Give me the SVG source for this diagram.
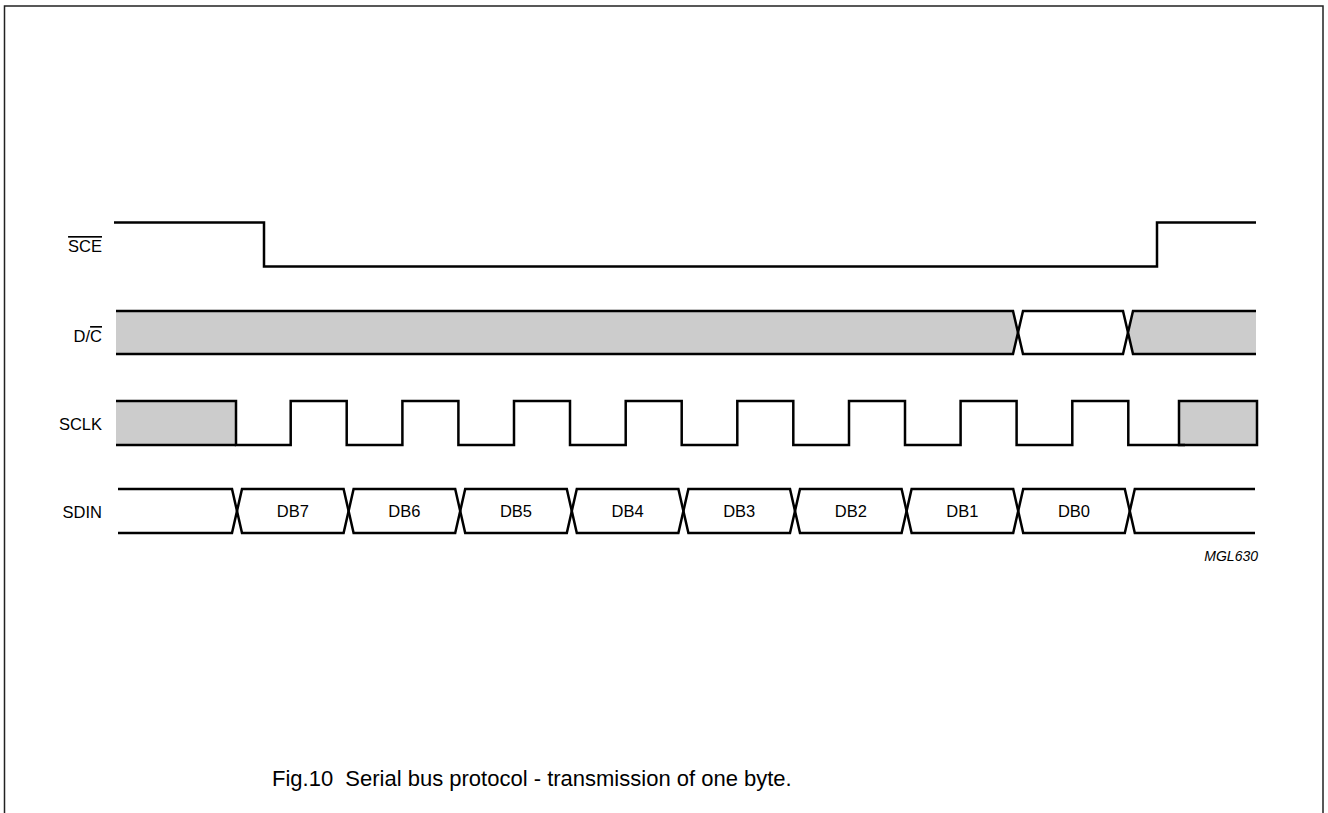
<svg xmlns="http://www.w3.org/2000/svg" width="1328" height="813" viewBox="0 0 1328 813">
<style>
.w{fill:none;stroke:#000;stroke-width:2.5;stroke-linejoin:miter;stroke-linecap:butt}
.g{fill:#cccccc;stroke:none}
.lbl{font-family:"Liberation Sans",Arial,sans-serif;font-size:16.5px;fill:#000}
.lab{text-anchor:end}
.db{text-anchor:middle}
.ov{text-decoration:overline}
</style>
<rect width="1328" height="813" fill="#fff"/>
<path d="M4.5 813 V6 H1323 V813" fill="none" stroke="#222" stroke-width="1.5"/>
<g id="labels">
<text class="lbl lab" x="102" y="252"><tspan class="ov">SCE</tspan></text>
<text class="lbl lab" x="102" y="342">D/<tspan class="ov">C</tspan></text>
<text class="lbl lab" x="102" y="430">SCLK</text>
<text class="lbl lab" x="102" y="518">SDIN</text>
</g>
<g id="connectors">
<g id="sce">
<path class="w" d="M114 222.5 H264 V266.5 H1157 V222.5 H1256"/>
</g>
<g id="dc">
<path class="g" d="M116 311 H1013 L1018 332.5 L1013 354 H116 Z"/>
<path class="w" d="M116 311 H1013 L1018 332.5 L1013 354 H116"/>
<path class="w" d="M1018 332.5 L1023 311 H1123 L1128 332.5 L1123 354 H1023 Z"/>
<path class="g" d="M1128 332.5 L1133 311 H1256 V354 H1133 Z"/>
<path class="w" d="M1256 311 H1133 L1128 332.5 L1133 354 H1256"/>
</g>
<g id="sclk">
<path class="g" d="M116 401 H236 V445 H116 Z"/>
<rect class="g" x="1179" y="401" width="78" height="44"/>
<path class="w" d="M116 401 H236 V445 H290.7 V401 H346.7 V445 H402.4 V401 H458.4 V445 H514 V401 H570 V445 H625.7 V401 H681.7 V445 H737.3 V401 H793.3 V445 H849 V401 H905 V445 H960.6 V401 H1016.6 V445 H1072.3 V401 H1128.3 V445 H1185"/>
<path class="w" d="M116 445 H236"/>
<rect class="w" x="1179" y="401" width="78" height="44"/>
</g>
<g id="sdin">
<path class="w" d="M118 489 H232 L237 511 L232 533 H118"/>
<path class="w" d="M237 511 L242 489 H343.6 L348.6 511 L343.6 533 H242 Z"/>
<path class="w" d="M348.6 511 L353.6 489 H455.2 L460.2 511 L455.2 533 H353.6 Z"/>
<path class="w" d="M460.2 511 L465.2 489 H566.8 L571.8 511 L566.8 533 H465.2 Z"/>
<path class="w" d="M571.8 511 L576.8 489 H678.4 L683.4 511 L678.4 533 H576.8 Z"/>
<path class="w" d="M683.4 511 L688.4 489 H790 L795 511 L790 533 H688.4 Z"/>
<path class="w" d="M795 511 L800 489 H901.6 L906.6 511 L901.6 533 H800 Z"/>
<path class="w" d="M906.6 511 L911.6 489 H1013.2 L1018.2 511 L1013.2 533 H911.6 Z"/>
<path class="w" d="M1018.2 511 L1023.2 489 H1124.8 L1129.8 511 L1124.8 533 H1023.2 Z"/>
<path class="w" d="M1255 489 H1134.8 L1129.8 511 L1134.8 533 H1255"/>
</g>
</g>
<g id="bits">
<text class="lbl db" x="292.8" y="517">DB7</text>
<text class="lbl db" x="404.4" y="517">DB6</text>
<text class="lbl db" x="516" y="517">DB5</text>
<text class="lbl db" x="627.6" y="517">DB4</text>
<text class="lbl db" x="739.2" y="517">DB3</text>
<text class="lbl db" x="850.8" y="517">DB2</text>
<text class="lbl db" x="962.4" y="517">DB1</text>
<text class="lbl db" x="1074" y="517">DB0</text>
</g>
<text x="1258" y="561" text-anchor="end" font-family="'Liberation Sans',Arial,sans-serif" font-size="14" font-style="italic">MGL630</text>
<text x="272" y="786" font-family="'Liberation Sans',Arial,sans-serif" font-size="22" xml:space="preserve">Fig.10  Serial bus protocol - transmission of one byte.</text>
</svg>
